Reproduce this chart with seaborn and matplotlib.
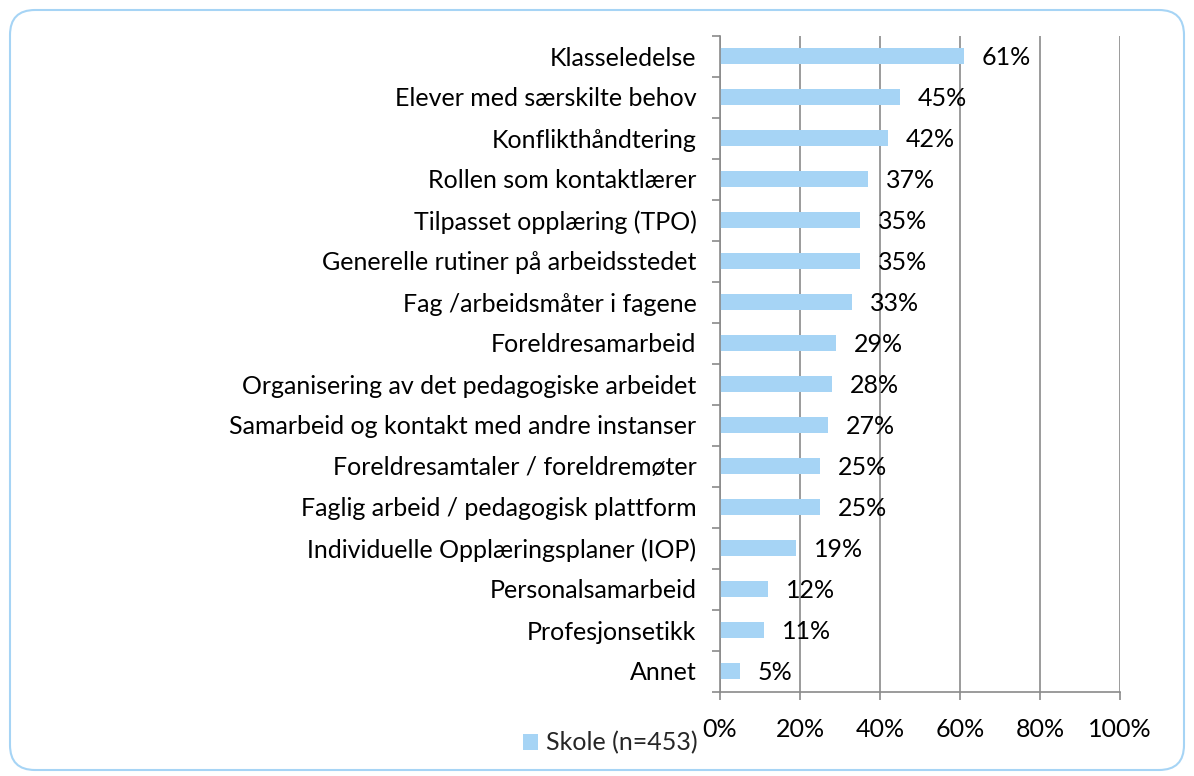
import matplotlib
matplotlib.use("Agg")
import matplotlib.pyplot as plt
import seaborn as sns
import pandas as pd
import numpy as np
from matplotlib.patches import FancyBboxPatch, Patch
from matplotlib.ticker import FixedLocator, PercentFormatter

categories = [
    "Klasseledelse",
    "Elever med særskilte behov",
    "Konflikthåndtering",
    "Rollen som kontaktlærer",
    "Tilpasset opplæring (TPO)",
    "Generelle rutiner på arbeidsstedet",
    "Fag /arbeidsmåter i fagene",
    "Foreldresamarbeid",
    "Organisering av det pedagogiske arbeidet",
    "Samarbeid og kontakt med andre instanser",
    "Foreldresamtaler / foreldremøter",
    "Faglig arbeid / pedagogisk plattform",
    "Individuelle Opplæringsplaner (IOP)",
    "Personalsamarbeid",
    "Profesjonsetikk",
    "Annet",
]
values = [61, 45, 42, 37, 35, 35, 33, 29, 28, 27, 25, 25, 19, 12, 11, 5]
series_name = "Skole (n=453)"
x_ticks = [0, 20, 40, 60, 80, 100]

sns.set_theme(style="white")
plt.rcParams["font.family"] = ["Lato", "DejaVu Sans"]

BAR = "#A6D4F5"
GRID = "#8A8A8A"
FS = 18

W, H = 1194, 776
fig = plt.figure(figsize=(W / 100, H / 100), dpi=100)
ax = fig.add_axes([720 / W, 1 - 691.5 / H, 400 / W, (691.5 - 35.5) / H])

df = pd.DataFrame({"cat": categories, "val": values})
sns.barplot(data=df, y="cat", x="val", orient="h", color=BAR, width=0.39,
            saturation=1, ax=ax, edgecolor="none")

ax.set_xlim(0, 100)
ax.set_ylim(len(categories) - 0.5, -0.5)
ax.set_xlabel("")
ax.set_ylabel("")

ax.xaxis.set_major_locator(FixedLocator(x_ticks))
ax.xaxis.set_major_formatter(PercentFormatter(decimals=0))
ax.grid(axis="x", color=GRID, linewidth=1.2)
ax.set_axisbelow(True)

for s in ["top", "right"]:
    ax.spines[s].set_visible(False)
for s in ["left", "bottom"]:
    ax.spines[s].set_color(GRID)
    ax.spines[s].set_linewidth(1.2)

ax.tick_params(axis="x", which="major", length=6, width=1.2, color=GRID,
               direction="out", pad=13, labelsize=FS, labelcolor="black", bottom=True)
ax.tick_params(axis="y", which="major", length=0, pad=17, labelsize=FS, labelcolor="black")
ax.yaxis.set_minor_locator(FixedLocator(np.arange(-0.5, len(categories), 1.0)))
ax.tick_params(axis="y", which="minor", length=6, width=1.2, color=GRID,
               direction="out", left=True)

for i, v in enumerate(values):
    ax.annotate(f"{v}%", xy=(v, i), xytext=(13, -1), textcoords="offset points",
                va="center", ha="left", fontsize=FS, color="black")

fig.legend(handles=[Patch(facecolor=BAR, edgecolor="none", label=series_name)],
           loc="center left", bbox_to_anchor=(523 / W, 1 - 743 / H),
           frameon=False, fontsize=FS, handlelength=0.6, handleheight=0.6,
           handletextpad=0.3, borderpad=0, borderaxespad=0)

border = FancyBboxPatch((10 / 100, 6 / 100), (W - 20) / 100, (H - 16) / 100,
                        boxstyle="round,pad=0,rounding_size=0.25",
                        transform=fig.dpi_scale_trans, facecolor="none",
                        edgecolor=BAR, linewidth=1.5, zorder=-1)
fig.patches.append(border)

fig.savefig("out.png", dpi=100)
